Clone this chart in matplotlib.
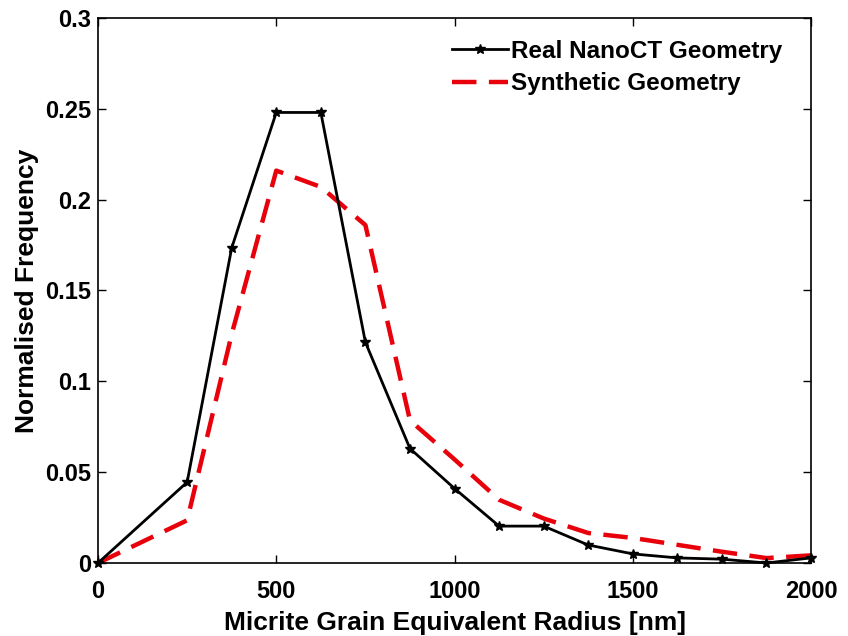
import matplotlib
matplotlib.use('Agg')
import matplotlib.pyplot as plt

# Grain radius bins [nm]
radius = [0, 250, 375, 500, 625, 750, 875, 1000, 1125, 1250,
          1375, 1500, 1625, 1750, 1875, 2000]

# Normalised frequency of each geometry
real_nanoct = [0.0, 0.0445, 0.1735, 0.248, 0.248, 0.1215, 0.063, 0.041,
               0.0203, 0.0203, 0.0099, 0.005, 0.0028, 0.0021, 0.0, 0.0028]
synthetic = [0.0, 0.0235, 0.126, 0.216, 0.207, 0.186, 0.0785, 0.057,
             0.0348, 0.0245, 0.0165, 0.0138, 0.0100, 0.0062, 0.0027, 0.0042]

plt.rcParams['font.family'] = ['Liberation Sans', 'DejaVu Sans']
plt.rcParams['font.weight'] = 'bold'

fig = plt.figure(figsize=(8.48, 6.36), dpi=100)
ax = fig.add_axes([0.1156, 0.1148, 0.8408, 0.8569])

ax.plot(radius, real_nanoct, '-*', color='black', lw=2.0, markersize=7,
        label='Real NanoCT Geometry', clip_on=False, zorder=3)
ax.plot(radius, synthetic, '--', color='#e8000b', lw=3.2, dashes=(5.5, 2.8),
        label='Synthetic Geometry', clip_on=False, zorder=2)

ax.set_xlim(0, 2000)
ax.set_ylim(0, 0.3)
ax.set_xticks([0, 500, 1000, 1500, 2000])
ax.set_yticks([0, 0.05, 0.1, 0.15, 0.2, 0.25, 0.3])
ax.set_yticklabels(['0', '0.05', '0.1', '0.15', '0.2', '0.25', '0.3'])
ax.tick_params(direction='in', top=True, right=True, length=6, width=1,
               labelsize=17)
ax.tick_params(axis='x', pad=12)
ax.tick_params(axis='y', pad=5)
for s in ax.spines.values():
    s.set_linewidth(1.2)

ax.set_xlabel('Micrite Grain Equivalent Radius [nm]', fontsize=19,
              fontweight='bold', labelpad=6)
ax.set_ylabel('Normalised Frequency', fontsize=19, fontweight='bold',
              labelpad=4)

leg = ax.legend(loc='upper right', bbox_to_anchor=(0.948, 0.972),
                bbox_transform=fig.transFigure, frameon=False, fontsize=17.5,
                handlelength=2.3, handletextpad=0.12, labelspacing=0.4)

fig.savefig('out.png', dpi=100)
